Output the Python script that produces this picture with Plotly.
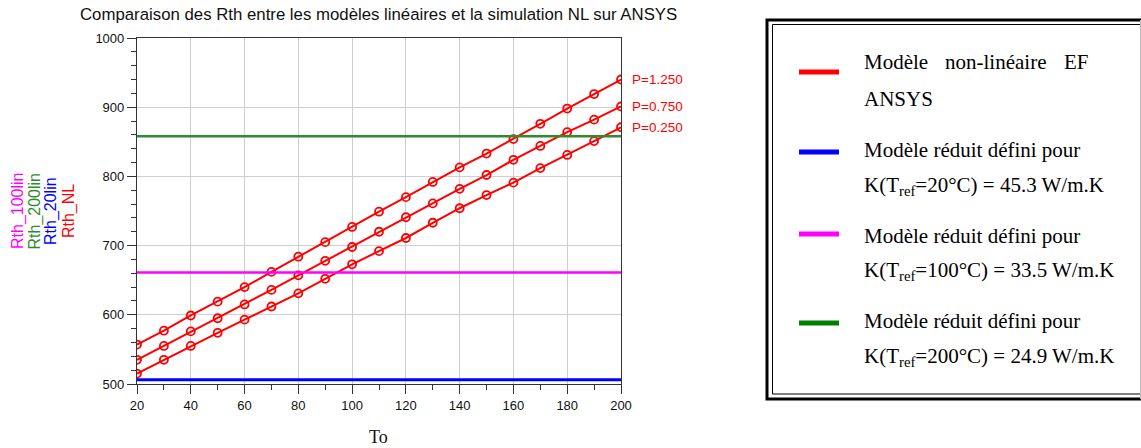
import plotly.graph_objects as go

# Ambient temperature To (°C)
To = [20, 30, 40, 50, 60, 70, 80, 90, 100, 110, 120, 130, 140, 150, 160, 170, 180, 190, 200]

# Non-linear FE (ANSYS) thermal resistance for three power levels
Rth_NL_P1250 = [557, 577, 599, 619, 640, 662, 684, 705, 727, 749, 770, 792, 813, 833, 854, 876, 898, 919, 940]
Rth_NL_P0750 = [535, 555, 576, 595, 615, 636, 657, 678, 698, 720, 741, 761, 782, 802, 824, 844, 864, 882, 901]
Rth_NL_P0250 = [515, 535, 555, 574, 593, 612, 631, 652, 673, 692, 711, 733, 754, 773, 791, 812, 831, 851, 871]
P_labels = ["P=1.250", "P=0.750", "P=0.250"]

# Reduced linear models (constant Rth)
Rth_20lin = 506
Rth_100lin = 661
Rth_200lin = 858

y_ticks = [500, 600, 700, 800, 900, 1000]
x_ticks = [20, 40, 60, 80, 100, 120, 140, 160, 180, 200]

legend_items = [
    ("#ff0000", ["Modèle   non-linéaire   EF", "ANSYS"]),
    ("#0000ff", ["Modèle réduit défini pour", "K(T<sub>ref</sub>=20°C) = 45.3 W/m.K"]),
    ("#ff00ff", ["Modèle réduit défini pour", "K(T<sub>ref</sub>=100°C) = 33.5 W/m.K"]),
    ("#008000", ["Modèle réduit défini pour", "K(T<sub>ref</sub>=200°C) = 24.9 W/m.K"]),
]

W, H = 1141, 448
L, R, T, B = 137, 621, 38, 384   # plot area in pixels


def px(x):
    return (x - L) / (R - L)


def py(y):
    return (B - y) / (B - T)


fig = go.Figure()

RED = "#ff0000"
for series in (Rth_NL_P1250, Rth_NL_P0750, Rth_NL_P0250):
    fig.add_trace(go.Scatter(
        x=To, y=series, mode="lines+markers",
        line=dict(color=RED, width=2),
        marker=dict(symbol="circle-open", size=8, color=RED, line=dict(width=1.8, color=RED)),
        showlegend=False, hoverinfo="skip"))

for val, col, w in ((Rth_20lin, "#0000ff", 3), (Rth_100lin, "#ff00ff", 2.5), (Rth_200lin, "#2e8b2e", 2.5)):
    fig.add_trace(go.Scatter(
        x=[To[0], To[-1]], y=[val, val], mode="lines",
        line=dict(color=col, width=w), showlegend=False, hoverinfo="skip"))

SANS = "Liberation Sans, Arial, sans-serif"
SERIF = "Liberation Serif, Times New Roman, serif"

ann = []
# end-of-curve labels
for series, lab in zip((Rth_NL_P1250, Rth_NL_P0750, Rth_NL_P0250), P_labels):
    ann.append(dict(x=To[-1], y=series[-1], xref="x", yref="y", text=lab, showarrow=False,
                    xanchor="left", yanchor="middle", xshift=9,
                    font=dict(family=SANS, size=13.5, color=RED)))

# stacked rotated y-axis titles
for xpix, txt, col in ((18, "Rth_100lin", "#ff00ff"), (34.5, "Rth_200lin", "#2e8b2e"),
                       (51, "Rth_20lin", "#0000ff"), (69, "Rth_NL", "#ff0000")):
    ann.append(dict(x=px(xpix), y=0.5, xref="paper", yref="paper", text=txt, showarrow=False,
                    textangle=-90, xanchor="center", yanchor="middle",
                    font=dict(family=SANS, size=16, color=col)))

# x-axis title
ann.append(dict(x=px(378), y=py(437), xref="paper", yref="paper", text="To", showarrow=False,
                xanchor="center", yanchor="middle",
                font=dict(family=SERIF, size=18, color="#111")))

# title
ann.append(dict(x=px(378), y=py(14), xref="paper", yref="paper",
                text="Comparaison des Rth entre les modèles linéaires et la simulation NL sur ANSYS",
                showarrow=False, xanchor="center", yanchor="middle",
                font=dict(family=SANS, size=16.8, color="#111")))

shapes = []
# legend box: double border
shapes.append(dict(type="rect", xref="paper", yref="paper",
                   x0=px(767), x1=px(1160), y0=py(399), y1=py(20),
                   line=dict(color="#000", width=3), fillcolor="white", layer="above"))
shapes.append(dict(type="rect", xref="paper", yref="paper",
                   x0=px(772.5), x1=px(1150), y0=py(394), y1=py(24.5),
                   line=dict(color="#000", width=1), layer="above"))
shapes.append(dict(type="line", xref="paper", yref="paper",
                   x0=px(1140.5), x1=px(1140.5), y0=py(399), y1=py(20),
                   line=dict(color="#bbb", width=1), layer="above"))

entry_y = [(72, 62, 99), (152, 150, 186), (234, 236, 271), (323, 321, 357)]
LEG_FONT = dict(family=SERIF, size=21, color="#000")
TX = 862
for (col, lines), (ly, t1, t2) in zip(legend_items, entry_y):
    shapes.append(dict(type="line", xref="paper", yref="paper",
                       x0=px(799), x1=px(839), y0=py(ly), y1=py(ly),
                       line=dict(color=col, width=5), layer="above"))
    if "   " in lines[0]:
        words = lines[0].split()
        for wx, w in zip((TX, 943, 1062), words):
            ann.append(dict(x=px(wx), y=py(t1), xref="paper", yref="paper", text=w, showarrow=False,
                            xanchor="left", yanchor="middle", font=LEG_FONT))
    else:
        ann.append(dict(x=px(TX), y=py(t1), xref="paper", yref="paper", text=lines[0], showarrow=False,
                        xanchor="left", yanchor="middle", font=LEG_FONT))
    ann.append(dict(x=px(TX), y=py(t2), xref="paper", yref="paper", text=lines[1], showarrow=False,
                    xanchor="left", yanchor="middle", font=LEG_FONT))

axis_common = dict(
    showline=True, linecolor="#333", linewidth=1.2, mirror=True,
    ticks="outside", ticklen=9, tickwidth=1.2, tickcolor="#333",
    showgrid=True, gridcolor="#cfcfcf", gridwidth=1, zeroline=False,
    tickfont=dict(family=SANS, size=13, color="#111"),
)

fig.update_layout(
    width=W, height=H,
    margin=dict(l=L, r=W - R, t=T, b=H - B),
    paper_bgcolor="white", plot_bgcolor="white",
    xaxis=dict(range=[20, 200], tickvals=x_ticks, **axis_common,
               minor=dict(dtick=10, ticks="outside", ticklen=5, tickwidth=1, tickcolor="#333", showgrid=False)),
    yaxis=dict(range=[500, 1000], tickvals=y_ticks, **axis_common,
               minor=dict(dtick=20, ticks="outside", ticklen=5, tickwidth=1, tickcolor="#333", showgrid=False)),
    annotations=ann, shapes=shapes,
)

fig.write_html("out.html")
